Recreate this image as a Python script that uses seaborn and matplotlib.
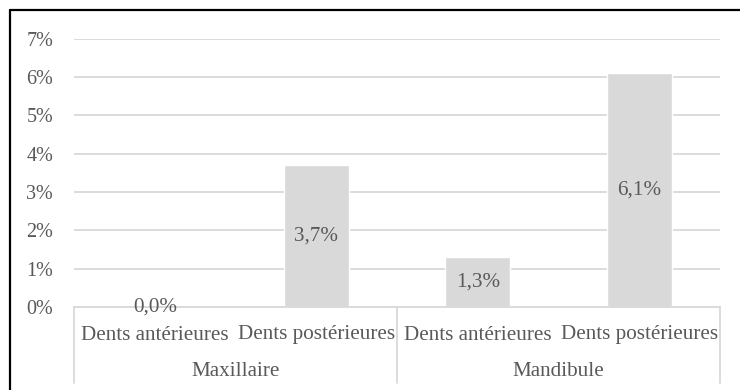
import matplotlib
matplotlib.use("Agg")
import matplotlib.pyplot as plt
from matplotlib.lines import Line2D
import seaborn as sns
import pandas as pd

# Prevalence by jaw and tooth group (percent)
jaws = ["Maxillaire", "Maxillaire", "Mandibule", "Mandibule"]
teeth = ["Dents antérieures", "Dents postérieures", "Dents antérieures", "Dents postérieures"]
values = [0.0, 3.7, 1.3, 6.1]
y_ticks = [0, 1, 2, 3, 4, 5, 6, 7]

sns.set_theme(style="white")
plt.rcParams["font.family"] = ["Liberation Serif", "DejaVu Serif"]

TEXT = "#595959"
GRID = "#d9d9d9"
BAR = "#d9d9d9"
FS = 15.2

df = pd.DataFrame({"jaw": jaws, "tooth": teeth, "value": values})
df["key"] = df["jaw"] + " / " + df["tooth"]

W, H = 740, 390
fig = plt.figure(figsize=(W / 100, H / 100), dpi=100)
ax = fig.add_axes([74 / W, 83 / H, (720 - 74) / W, (307 - 38.7) / H])

sns.barplot(data=df, x="key", y="value", order=list(df["key"]), color=BAR,
            width=0.4, saturation=1, ax=ax, zorder=2)

ax.set_ylim(0, 7)
ax.set_xlim(-0.5, 3.5)
ax.set_yticks(y_ticks)
ax.set_yticklabels([f"{t}%" for t in y_ticks], color=TEXT, fontsize=14.5)
ax.tick_params(axis="y", length=0, pad=15)
ax.tick_params(axis="x", length=0)
ax.set_xticks([])
ax.set_xlabel("")
ax.set_ylabel("")
ax.yaxis.grid(True, color=GRID, linewidth=1.3, zorder=0)
ax.set_axisbelow(True)
for side in ["left", "right", "top"]:
    ax.spines[side].set_visible(False)
ax.spines["bottom"].set_color(GRID)
ax.spines["bottom"].set_linewidth(1.3)

# value labels centred in each bar
for i, v in enumerate(df["value"]):
    ax.text(i, v / 2, f"{v:.1f}".replace(".", ",") + "%", ha="center", va="center",
            color=TEXT, fontsize=FS, zorder=3)

# two-level category axis
ax_h = ax.get_position().height * H
for i, t in enumerate(df["tooth"]):
    ax.annotate(t, xy=(i, 0), xycoords=("data", "axes fraction"), xytext=(0, -28),
                textcoords="offset pixels", ha="center", va="center",
                color=TEXT, fontsize=FS)
groups = df.groupby("jaw", sort=False).apply(lambda g: g.index.to_list(), include_groups=False)
for jaw, idx in groups.items():
    ax.annotate(jaw, xy=(sum(idx) / len(idx), 0), xycoords=("data", "axes fraction"),
                xytext=(0, -64), textcoords="offset pixels", ha="center", va="center",
                color=TEXT, fontsize=FS)
drop = 76 / ax_h
for xb in [-0.5, 1.5, 3.5]:
    ax.plot([xb, xb], [0, -drop], transform=ax.get_xaxis_transform(),
            color=GRID, linewidth=1.3, clip_on=False)

# frame lines along the top and left of the figure
fig.add_artist(Line2D([10 / W, 1], [1 - 10 / H, 1 - 10 / H], color="black", linewidth=1.6))
fig.add_artist(Line2D([10 / W, 10 / W], [0, 1 - 10 / H], color="black", linewidth=1.6))

fig.savefig("out.png", dpi=100)
